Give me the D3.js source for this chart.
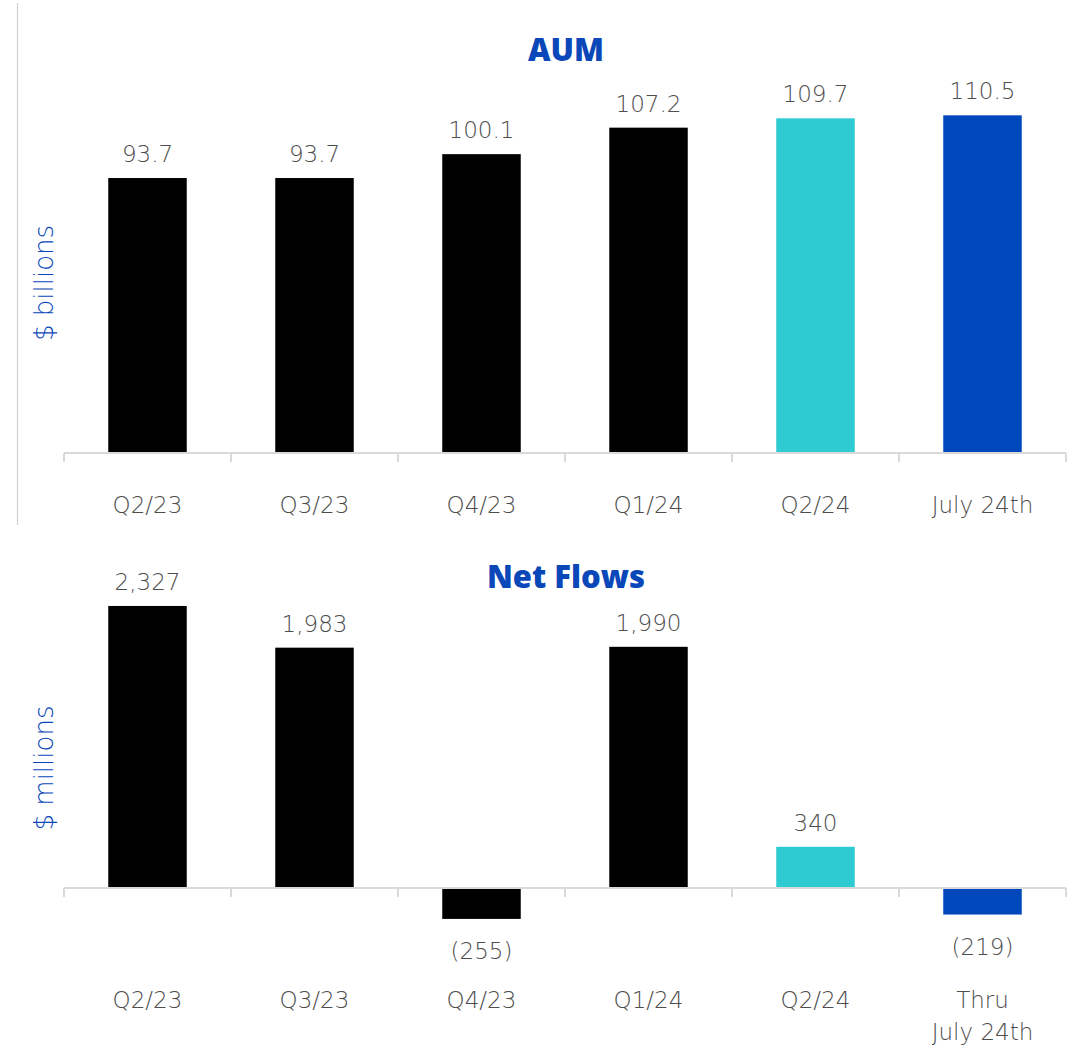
<!DOCTYPE html>
<html><head><meta charset="utf-8">
<script src="https://cdn.jsdelivr.net/npm/d3@7"></script>
<style>body{margin:0;background:#fff}svg{display:block}</style>
</head><body>
<script>
const aumCategories = ["Q2/23","Q3/23","Q4/23","Q1/24","Q2/24","July 24th"];
const aumValues = [93.7, 93.7, 100.1, 107.2, 109.7, 110.5];
const aumLabels = ["93.7","93.7","100.1","107.2","109.7","110.5"];
const flowCategories = ["Q2/23","Q3/23","Q4/23","Q1/24","Q2/24","Thru\nJuly 24th"];
const flowValues = [2327, 1983, -255, 1990, 340, -219];
const flowLabels = ["2,327","1,983","(255)","1,990","340","(219)"];
const barColors = ["#000000","#000000","#000000","#000000","#2ECBD3","#0047BB"];

const W = 1076, H = 1048;
const svg = d3.select("body").append("svg").attr("width", W).attr("height", H);
const FONT = "'DejaVu Sans', sans-serif";
const FW = 200;
const GRAY = "#4D4D4D", BLUE = "#0A47B8", AXIS = "#D9D9D9";

svg.append("line").attr("x1",17.5).attr("x2",17.5).attr("y1",3).attr("y2",525)
  .attr("stroke","#CFCFCF").attr("stroke-width",1.2);

function panel(opts){
  const x = d3.scaleBand().domain(opts.cats).range([64,1066]).paddingInner(0.53).paddingOuter(0.265);
  const step = x.step();
  const y = d3.scaleLinear().domain(opts.domain).range(opts.range);
  const b0 = opts.domain[0] < 0 ? 0 : opts.domain[0];
  const base = y(b0);
  const g = svg.append("g");
  g.selectAll("rect.bar").data(opts.values).join("rect")
    .attr("x",(d,i)=>x(opts.cats[i])).attr("width",x.bandwidth())
    .attr("y",d=>Math.min(y(d),base))
    .attr("height",d=>Math.abs(y(d)-base))
    .attr("fill",(d,i)=>barColors[i]);
  g.append("line").attr("x1",64).attr("x2",1066).attr("y1",base).attr("y2",base)
    .attr("stroke",AXIS).attr("stroke-width",2);
  const ticks = d3.range(opts.cats.length+1).map(i=>x.range()[0]+i*step);
  g.selectAll("line.tk").data(ticks).join("line").attr("class","tk")
    .attr("x1",d=>d).attr("x2",d=>d).attr("y1",base).attr("y2",base+9)
    .attr("stroke",AXIS).attr("stroke-width",2);
  g.selectAll("text.val").data(opts.values).join("text")
    .attr("x",(d,i)=>x(opts.cats[i])+x.bandwidth()/2)
    .attr("y",d=>d>=0? y(d)-16 : y(d)+40)
    .attr("text-anchor","middle").attr("font-family",FONT).attr("font-weight",FW).attr("font-size",23)
    .attr("fill",GRAY).text((d,i)=>opts.labels[i]);
  opts.cats.forEach((c,i)=>{
    const lines = c.split("\n");
    const t = g.append("text").attr("x",x(c)+x.bandwidth()/2).attr("y",opts.catY)
      .attr("text-anchor","middle").attr("font-family",FONT).attr("font-weight",FW).attr("font-size",23).attr("fill",GRAY);
    lines.forEach((l,j)=>t.append("tspan").attr("x",x(c)+x.bandwidth()/2).attr("dy",j?32:0).text(l));
  });
  g.append("text").attr("x",566).attr("y",opts.titleY).attr("text-anchor","middle")
    .attr("font-family","'Open Sans', sans-serif").attr("font-weight",800).attr("font-size",31)
    .attr("fill",BLUE).text(opts.title);
  g.append("text").attr("transform",`translate(53,${opts.ylabY}) rotate(-90)`)
    .attr("text-anchor","middle").attr("font-family",FONT).attr("font-weight",FW).attr("font-size",26)
    .attr("fill",BLUE).text(opts.ylab);
}

panel({cats:aumCategories, values:aumValues, labels:aumLabels,
  domain:[20,120], range:[453, 453-100*3.731], catY:513, title:"AUM", titleY:61,
  ylab:"$ billions", ylabY:283});
panel({cats:flowCategories, values:flowValues, labels:flowLabels,
  domain:[-500,2500], range:[888+500*0.1212, 888-2500*0.1212], catY:1008, title:"Net Flows", titleY:588,
  ylab:"$ millions", ylabY:768});
</script>
</body></html>
